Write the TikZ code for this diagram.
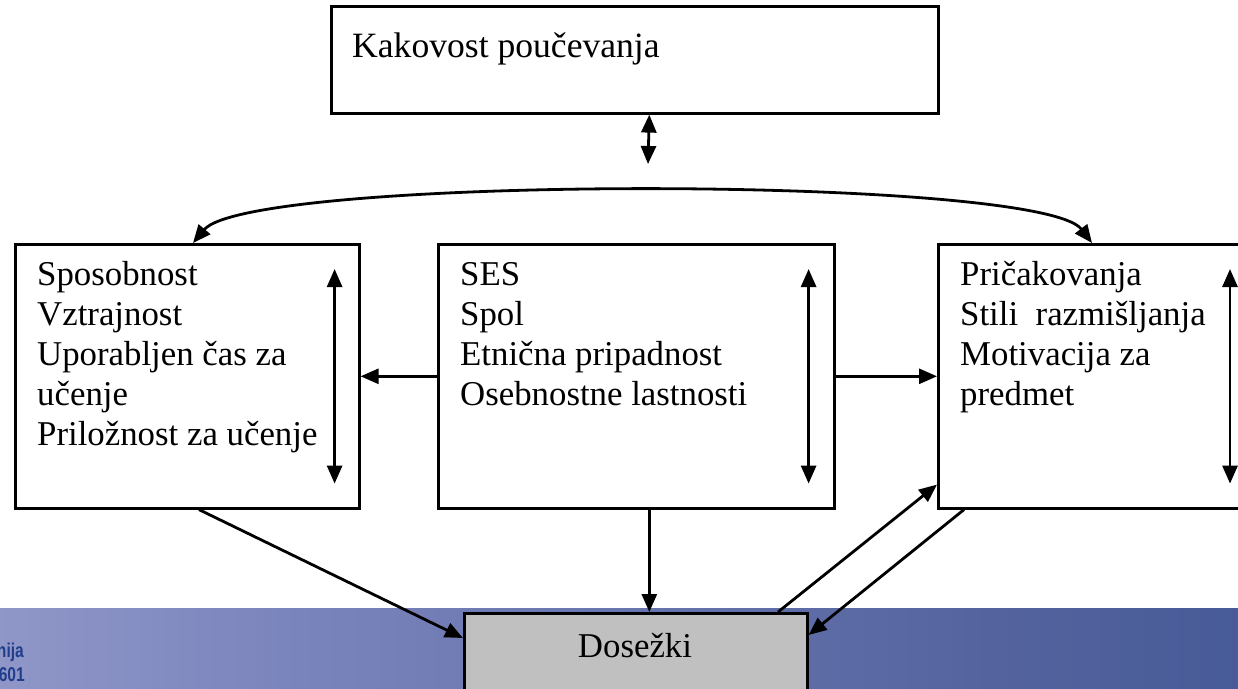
\documentclass[tikz,border=0pt]{standalone}
\usepackage{fontspec}
\setmainfont{Liberation Serif}
\newfontfamily\footfont{Liberation Sans}
\usetikzlibrary{arrows.meta,calc}

% colour stops of the footer band
\definecolor{bandA}{RGB}{188,190,224}
\definecolor{bandB}{RGB}{122,132,188}
\definecolor{bandC}{RGB}{84,99,158}
\definecolor{bandD}{RGB}{40,72,138}
\definecolor{footblue}{RGB}{32,62,140}
\definecolor{resultgray}{RGB}{192,192,192}
\pgfdeclarehorizontalshading{footband}{100bp}{color(0bp)=(bandA); color(37bp)=(bandB); color(65bp)=(bandC); color(100bp)=(bandD)}

\newcommand{\firstline}{\rule{0pt}{31.3pt}}

\tikzset{
  frame/.style={draw, line width=2.6pt, inner sep=0pt, anchor=north west, fill=white},
  listtext/.style={anchor=north west, inner sep=0pt, align=left,
    font=\fontsize{34.8}{40}\selectfont},
  tip/.style={Triangle[length=18pt,width=15pt]},
  link/.style={line width=2.8pt, -{Triangle[length=18pt,width=15pt]}},
  twoway/.style={line width=2.8pt, {Triangle[length=18pt,width=15pt]}-{Triangle[length=18pt,width=15pt]}},
}

\begin{document}
\begin{tikzpicture}[x=1pt,y=-1pt]
\useasboundingbox (0,0) rectangle (1238,688);
\clip (0,0) rectangle (1238,688);
\fill[white] (0,0) rectangle (1238,688);

% footer band with the slide footer text
\shade[shading=footband] (0,608) rectangle (1238,688);
\node[anchor=base east, inner sep=0pt, text=footblue,
  font=\footfont\bfseries\fontsize{20}{20}\selectfont, xscale=0.78] (footA) at (24,657) {nija};
\node[anchor=base east, inner sep=0pt, text=footblue,
  font=\footfont\bfseries\fontsize{20}{20}\selectfont, xscale=0.78] (footB) at (25,681) {601};

% boxes
\node[frame, minimum width=607pt, minimum height=107pt] (teach) at (330,5) {};
\node[frame, minimum width=344pt, minimum height=264pt] (abil) at (14,243) {};
\node[frame, minimum width=396pt, minimum height=264pt] (mid) at (437,243) {};
\node[frame, minimum width=330pt, minimum height=264pt] (exp) at (937,243) {};
\node[frame, fill=resultgray, minimum width=343pt, minimum height=90pt] (dos) at (463,612) {};

% texts
\node[anchor=base west, inner sep=0pt, font=\fontsize{35.6}{40}\selectfont] (teachT) at (352,57) {Kakovost poučevanja};
\node[listtext] (abilT) at (37,253.7) {\firstline Sposobnost\\Vztrajnost\\Uporabljen čas za\\učenje\\Priložnost za učenje};
\node[listtext] (midT) at (460,253.7) {\firstline SES\\Spol\\Etnična pripadnost\\Osebnostne lastnosti};
\node[listtext] (expT) at (960,253.7) {\firstline Pričakovanja\\Stili\ \ razmišljanja\\Motivacija za\\predmet};
\node[anchor=base, inner sep=0pt, font=\fontsize{34.8}{40}\selectfont] (dosT) at (635,657) {Dosežki};

% link between teaching quality and the row of boxes
\coordinate (teachEnd) at (648,164);
\draw[twoway] ([xshift=14.5pt]teach.south) -- (teachEnd);

% curved link over the top of the row
\draw[twoway] ([xshift=179pt]abil.north west) .. controls (250,175) and (1040,175) .. ([xshift=155pt]exp.north west);

% links inside each box
\draw[twoway] ([xshift=-26pt,yshift=-26pt]abil.north east) -- ([xshift=-26pt,yshift=26pt]abil.south east);
\draw[twoway] ([xshift=-27pt,yshift=-26pt]mid.north east) -- ([xshift=-27pt,yshift=26pt]mid.south east);
\draw[twoway] ([xshift=293pt,yshift=-26pt]exp.north west) -- ([xshift=293pt,yshift=26pt]exp.south west);

% from the middle box sideways
\draw[link] (mid.west) -- (abil.east);
\draw[link] (mid.east) -- (exp.west);

% towards the results box
\draw[link] ([xshift=185pt]abil.south west) -- ([yshift=-26pt]dos.north west);
\draw[link] ([xshift=13pt]mid.south) -- ([xshift=13pt]mid.south |- dos.north);
\draw[link] ([xshift=315pt]dos.north west) -- ([yshift=25pt]exp.south west);
\draw[link] ([xshift=27pt]exp.south west) -- ([yshift=-23pt]dos.north east);
\end{tikzpicture}
\end{document}
